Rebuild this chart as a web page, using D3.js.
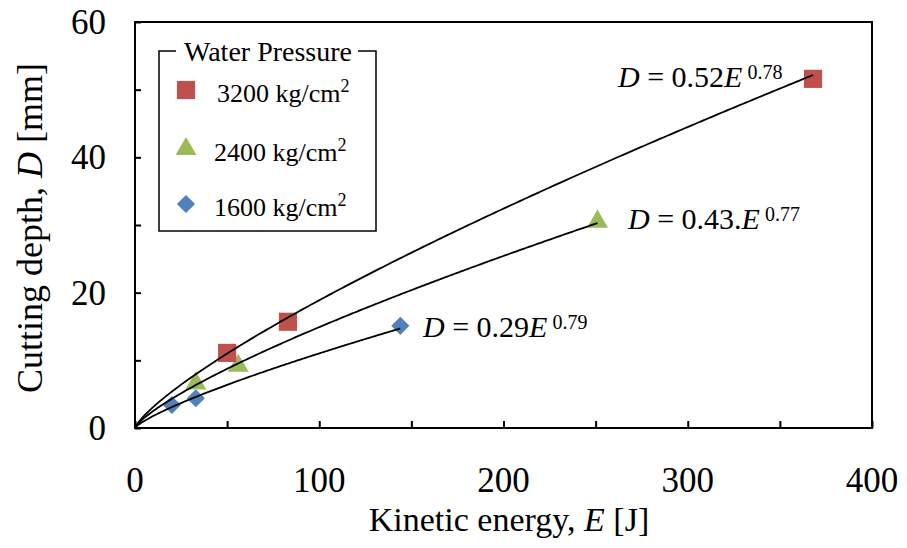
<!DOCTYPE html>
<html>
<head>
<meta charset="utf-8">
<script src="https://cdn.jsdelivr.net/npm/d3@7"></script>
<style>
  body { margin: 0; background: #fff; }
</style>
</head>
<body>
<div class="container"></div>
<script>
// points
const energy3200 = [50, 83, 368];
const depth3200 = [11.1, 15.7, 51.6];
const energy2400 = [33, 56, 251];
const depth2400 = [6.6, 9.2, 30.5];
const energy1600 = [20, 33, 144];
const depth1600 = [3.4, 4.4, 15.1];

// power fits D = a E^b as printed on the chart
const fitA = [0.52, 0.43, 0.29];
const fitB = [0.78, 0.77, 0.79];
const fitLabels = ['0.52', '0.43.', '0.29'];
const fitPower = ['0.78', '0.77', '0.79'];

const legendLabels = ['3200', '2400', '1600'];
const colors = ['#C0504D', '#9BBB59', '#4F81BD'];
const xTicks = [0, 100, 200, 300, 400];
const yTicks = [0, 20, 40, 60];

const width = 907;
const height = 548;
const plotLeft = 135, plotRight = 872, plotTop = 22, plotBottom = 428;
const serif = '"Liberation Serif", "Times New Roman", Times, "DejaVu Serif", serif';

const svg = d3
  .select('.container')
  .append('svg')
  .attr('width', width)
  .attr('height', height)
  .style('font-family', serif);

const x = d3.scaleLinear().domain([0, 400]).range([plotLeft, plotRight]);
const y = d3.scaleLinear().domain([0, 60]).range([plotBottom, plotTop]);

// frame
svg
  .append('rect')
  .attr('x', plotLeft)
  .attr('y', plotTop)
  .attr('width', plotRight - plotLeft)
  .attr('height', plotBottom - plotTop)
  .attr('fill', 'none')
  .attr('stroke', '#000')
  .attr('stroke-width', 2);

// inner ticks
const xAxis = svg
  .append('g')
  .attr('transform', `translate(0, ${plotBottom})`)
  .call(d3.axisTop(x).tickValues(d3.range(0, 401, 50)).tickSize(7).tickFormat(''));
const yAxis = svg
  .append('g')
  .attr('transform', `translate(${plotLeft}, 0)`)
  .call(d3.axisRight(y).tickValues(d3.range(0, 61, 10)).tickSize(6).tickFormat(''));
[xAxis, yAxis].forEach(g => {
  g.select('.domain').remove();
  g.selectAll('line').attr('stroke', '#000').attr('stroke-width', 2);
});

// tick labels
svg
  .selectAll('.x-label')
  .data(xTicks)
  .enter()
  .append('text')
  .attr('class', 'x-label')
  .attr('x', d => x(d))
  .attr('y', 492)
  .attr('text-anchor', 'middle')
  .style('font-family', serif)
  .style('font-size', '35px')
  .text(d => d);

svg
  .selectAll('.y-label')
  .data(yTicks)
  .enter()
  .append('text')
  .attr('class', 'y-label')
  .attr('x', 106)
  .attr('y', d => y(d) + 12)
  .attr('text-anchor', 'end')
  .style('font-family', serif)
  .style('font-size', '35px')
  .text(d => d);

// axis titles
const xTitle = svg
  .append('text')
  .attr('x', 509)
  .attr('y', 531)
  .attr('text-anchor', 'middle')
  .style('font-family', serif)
  .style('font-size', '34px');
xTitle.append('tspan').text('Kinetic energy, ');
xTitle.append('tspan').style('font-style', 'italic').text('E');
xTitle.append('tspan').text(' [J]');

const yTitle = svg
  .append('text')
  .attr('transform', 'translate(42, 228) rotate(-90)')
  .attr('text-anchor', 'middle')
  .style('font-family', serif)
  .style('font-size', '36px');
yTitle.append('tspan').text('Cutting depth, ');
yTitle.append('tspan').style('font-style', 'italic').text('D');
yTitle.append('tspan').text(' [mm]');

const series = [
  { e: energy3200, d: depth3200 },
  { e: energy2400, d: depth2400 },
  { e: energy1600, d: depth1600 }
];

// markers: square, triangle, square turned 45 degrees
const markerPath = [
  d3.symbol().type(d3.symbolSquare).size(330),
  d3.symbol().type(d3.symbolTriangle).size(190),
  d3.symbol().type(d3.symbolSquare).size(165)
];
const markerRotate = [0, 0, 45];

// back to front: blue, green, red
[2, 1, 0].forEach(i => {
  const s = series[i];
  svg
    .selectAll(`.m${i}`)
    .data(s.e.map((e, k) => [e, s.d[k]]))
    .enter()
    .append('path')
    .attr('class', `m${i}`)
    .attr('d', markerPath[i]())
    .attr('transform', p => `translate(${x(p[0])}, ${y(p[1])}) rotate(${markerRotate[i]})`)
    .attr('fill', colors[i]);
});

// fit curves, drawn over the markers
const line = d3
  .line()
  .x(p => x(p[0]))
  .y(p => y(p[1]));

series.forEach((s, i) => {
  const maxE = d3.max(s.e);
  const pts = d3.range(0, 201).map(k => {
    const e = (maxE * k) / 200;
    return [e, fitA[i] * Math.pow(e, fitB[i])];
  });
  svg
    .append('path')
    .attr('d', line(pts))
    .attr('fill', 'none')
    .attr('stroke', '#000')
    .attr('stroke-width', 1.8);
});

// equation labels
const eqPos = [
  [618, 87],
  [628, 229],
  [423, 337]
];

fitLabels.forEach((lab, i) => {
  const t = svg
    .append('text')
    .attr('x', eqPos[i][0])
    .attr('y', eqPos[i][1])
    .style('font-family', serif)
    .style('font-size', '30px');
  t.append('tspan').style('font-style', 'italic').text('D');
  t.append('tspan').text(` = ${lab}`);
  t.append('tspan').style('font-style', 'italic').text('E');
  t.append('tspan')
    .attr('dx', 5)
    .attr('dy', -8)
    .style('font-size', '20px')
    .text(fitPower[i]);
});

// legend
const legend = svg.append('g');
legend
  .append('rect')
  .attr('x', 159)
  .attr('y', 51)
  .attr('width', 217)
  .attr('height', 180)
  .attr('fill', '#fff')
  .attr('stroke', '#000')
  .attr('stroke-width', 1.5);
legend
  .append('rect')
  .attr('x', 176)
  .attr('y', 45)
  .attr('width', 182)
  .attr('height', 12)
  .attr('fill', '#fff');
legend
  .append('text')
  .attr('x', 268)
  .attr('y', 61)
  .attr('text-anchor', 'middle')
  .style('font-family', serif)
  .style('font-size', '28px')
  .text('Water Pressure');

const legendY = [90, 149, 204];
legendLabels.forEach((lab, i) => {
  legend
    .append('path')
    .attr('d', markerPath[i]())
    .attr('transform', `translate(186, ${legendY[i]}) rotate(${markerRotate[i]})`)
    .attr('fill', colors[i]);
  const t = legend
    .append('text')
    .attr('x', i === 0 ? 217 : 214)
    .attr('y', legendY[i] + 12)
    .style('font-family', serif)
    .style('font-size', '26px');
  t.append('tspan').text(`${lab} kg/cm`);
  t.append('tspan').attr('dy', -10).style('font-size', '18px').text('2');
});
</script>
</body>
</html>
